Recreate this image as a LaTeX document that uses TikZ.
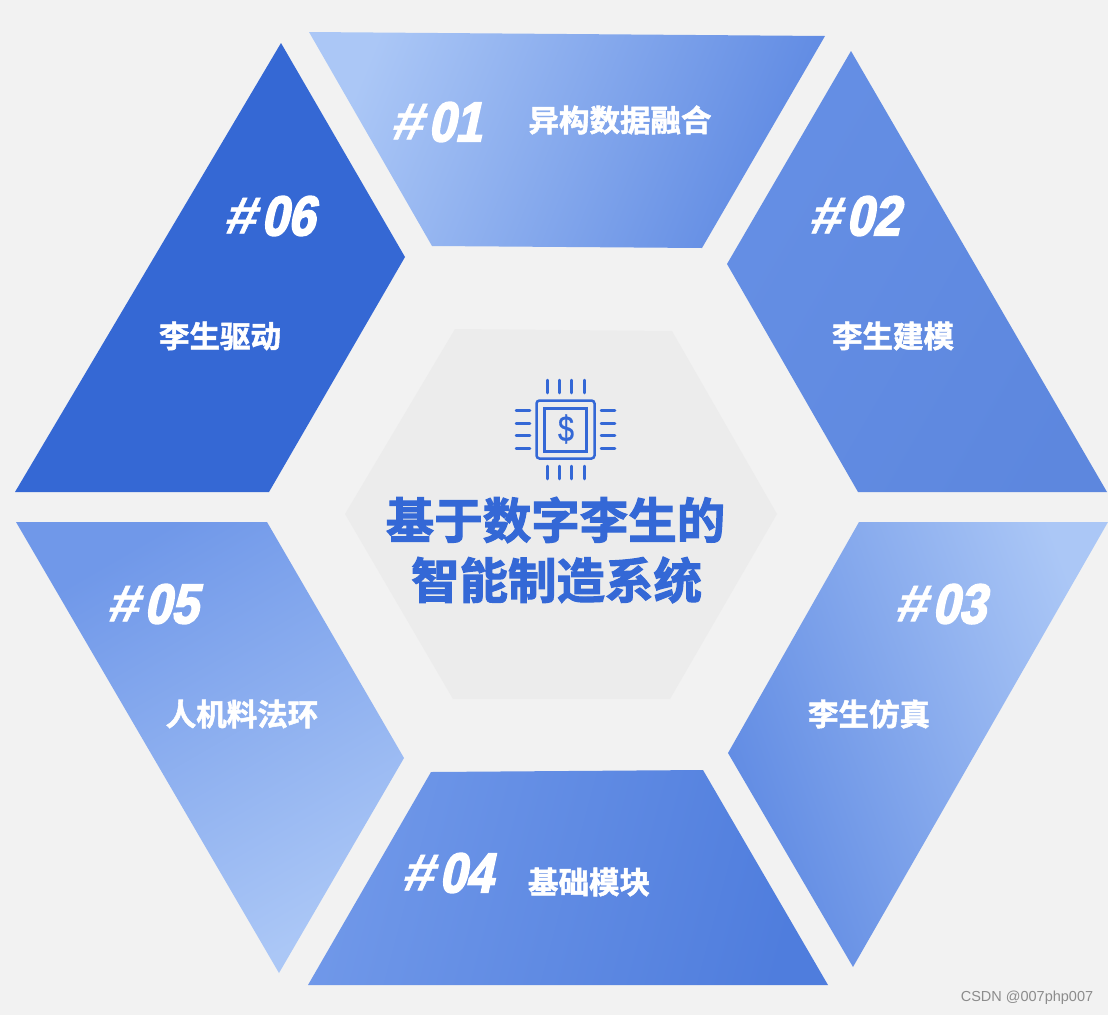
\documentclass[tikz,border=0pt]{standalone}
\usepackage{fontspec}
\setmainfont{Liberation Sans}
\newfontfamily\cjkb[FakeBold=1.7]{Noto Sans CJK SC Bold}
\newfontfamily\cjkt[FakeBold=2.2]{Noto Sans CJK SC Bold}
\newfontfamily\numf[FakeSlant=0.22,FakeStretch=0.86,FakeBold=3.2]{Liberation Sans Bold}
\newfontfamily\hashf[FakeSlant=0.22,FakeStretch=1.12,FakeBold=1]{Liberation Sans Bold}
\newfontfamily\dollarf[FakeStretch=0.8,FakeBold=0.5]{Liberation Sans}
\definecolor{bgc}{HTML}{F2F2F2}
\definecolor{hexc}{HTML}{ECECEC}
\definecolor{deep}{HTML}{3568D4}
\definecolor{titlec}{HTML}{3468D6}
\definecolor{pale}{HTML}{ABC7F6}
\definecolor{midb}{HTML}{5F8AE3}
\definecolor{lowb}{HTML}{7098E9}
\definecolor{lowr}{HTML}{4F7DDD}
\definecolor{midone}{HTML}{97B6F0}
\definecolor{midthree}{HTML}{90B1EF}
\tikzset{
  labeltext/.style={text=white,inner sep=0pt,font=\cjkb\fontsize{30.5}{30.5}\selectfont},
  numtext/.style={text=white,inner sep=0pt},
  titletext/.style={text=titlec,inner sep=0pt,font=\cjkt\fontsize{48.5}{48.5}\selectfont},
  chipline/.style={draw=titlec,line width=2.5pt},
  lead/.style={draw=titlec,line width=2.5pt,line cap=round},
}
\newcommand{\numlabel}[1]{{\hashf\fontsize{52}{52}\selectfont\raisebox{2pt}{\#}\hspace{5pt}\numf\fontsize{56}{56}\selectfont #1}}
\begin{document}
\begin{tikzpicture}[x=1pt,y=-1pt]
\useasboundingbox (0,0) rectangle (1108,1015);
\fill[bgc] (0,0) rectangle (1108,1015);
% segments
\path[left color=pale,middle color=midone,right color=midb,shading angle=68] (309,32) -- (825,36) -- (702,248) -- (432,246) -- cycle;
\path[left color=midb!92!pale,right color=midb!98!black,shading angle=60] (851,51) -- (1107,492) -- (858,492) -- (727,264) -- cycle;
\path[left color=midb,middle color=midthree,right color=pale,shading angle=110] (859,522) -- (1108,522) -- (853,967) -- (728,753) -- cycle;
\path[left color=lowb,right color=lowr,shading angle=75] (431,772) -- (703,770) -- (828,985) -- (308,985) -- cycle;
\path[left color=lowb,right color=pale,shading angle=30] (16,522) -- (267,522) -- (404,758) -- (279,973) -- cycle;
\fill[deep] (281,43) -- (405,257) -- (269,492) -- (15,492) -- cycle;
% centre
\fill[hexc] (455,329) -- (672,331) -- (777,514) -- (670,699) -- (453,699) -- (345,514) -- cycle;
% chip icon
\draw[chipline,rounded corners=3pt] (536.5,400.5) rectangle (594.5,458.5);
\draw[chipline] (544.5,408.5) rectangle (586.5,451.5);
\foreach \p in {547.5,559.5,571.5,584.5}{
  \draw[lead] (\p,380) -- (\p,393);
  \draw[lead] (\p,466) -- (\p,479);
}
\foreach \p in {410.5,423.5,435.5,448.5}{
  \draw[lead] (516,\p) -- (530,\p);
  \draw[lead] (601,\p) -- (615,\p);
}
\node[inner sep=0pt,text=titlec,font=\dollarf\fontsize{36}{36}\selectfont] (dollar) at (566,429) {\$};
% title
\node[titletext] (title1) at (555.5,520) {基于数字李生的};
\node[titletext] (title2) at (556.5,580) {智能制造系统};
% numbers
\node[numtext] (n1) at (436,122) {\numlabel{01}};
\node[numtext] (n2) at (854,216) {\numlabel{02}};
\node[numtext] (n3) at (940,604) {\numlabel{03}};
\node[numtext] (n4) at (447,873) {\numlabel{04}};
\node[numtext] (n5) at (152,604) {\numlabel{05}};
\node[numtext] (n6) at (269,216) {\numlabel{06}};
% labels
\node[labeltext] (l1) at (620,120) {异构数据融合};
\node[labeltext] (l2) at (893,336) {李生建模};
\node[labeltext] (l3) at (869,714) {李生仿真};
\node[labeltext] (l4) at (589,882) {基础模块};
\node[labeltext] (l5) at (242,714) {人机料法环};
\node[labeltext] (l6) at (220,336) {李生驱动};
% watermark
\node[inner sep=0pt,text=black!45,font=\fontsize{14.5}{14.5}\selectfont] (mark) at (1027,998) {CSDN @007php007};
\end{tikzpicture}
\end{document}
